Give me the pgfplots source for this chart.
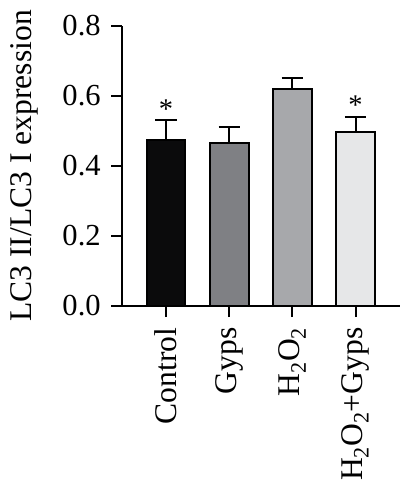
\documentclass[border=0pt]{standalone}
\usepackage{fontspec}
\setmainfont{Liberation Serif}
\usepackage{pgfplots}
\pgfplotsset{compat=1.18}
\definecolor{c1}{HTML}{0B0B0C}
\definecolor{c2}{HTML}{7F8084}
\definecolor{c3}{HTML}{A7A8AB}
\definecolor{c4}{HTML}{E6E7E8}
\begin{document}
\fontsize{30}{36}\selectfont
\begin{tikzpicture}
\begin{axis}[
  scale only axis,
  width=273pt, height=275pt,
  xmin=-0.694, xmax=3.71,
  ymin=0, ymax=0.8,
  axis lines=left,
  axis line style={-, line width=2pt},
  every tick/.style={black, line width=2pt},
  tick align=outside,
  major tick length=11pt,
  xtick={0,1,2,3},
  xticklabels={Control, Gyps, H\textsubscript{2}O\textsubscript{2}, H\textsubscript{2}O\textsubscript{2}+Gyps},
  xticklabel style={rotate=90, anchor=east, font=\fontsize{31}{36}\selectfont},
  ytick={0,0.2,0.4,0.6,0.8},
  yticklabel style={/pgf/number format/fixed, /pgf/number format/fixed zerofill, /pgf/number format/precision=1, /pgf/number format/assume math mode=true, font=\fontsize{30}{36}\selectfont},
  ylabel={LC3 II/LC3 I expression},
  ylabel style={font=\fontsize{31}{36}\selectfont},
  ylabel shift=4pt,
  clip=false,
  error bars/y dir=plus,
  error bars/y explicit,
  error bars/error bar style={line width=2pt, black},
  error bars/error mark options={rotate=90, mark size=10.5pt, line width=2pt, black},
]
\addplot[ybar, bar width=38pt, bar shift=0pt, draw=black, line width=2pt, fill=c1] coordinates {(0,0.474) +- (0,0.056)};
\addplot[ybar, bar width=38pt, bar shift=0pt, draw=black, line width=2pt, fill=c2] coordinates {(1,0.465) +- (0,0.045)};
\addplot[ybar, bar width=38pt, bar shift=0pt, draw=black, line width=2pt, fill=c3] coordinates {(2,0.620) +- (0,0.030)};
\addplot[ybar, bar width=38pt, bar shift=0pt, draw=black, line width=2pt, fill=c4] coordinates {(3,0.497) +- (0,0.043)};
\addplot[only marks, mark=none, nodes near coords={*}, nodes near coords style={anchor=south, font=\fontsize{28}{34}\selectfont, inner sep=0pt, yshift=2pt}, error bars/y dir=none] coordinates {(0,0.53) (3,0.54)};
\end{axis}
\end{tikzpicture}
\end{document}
